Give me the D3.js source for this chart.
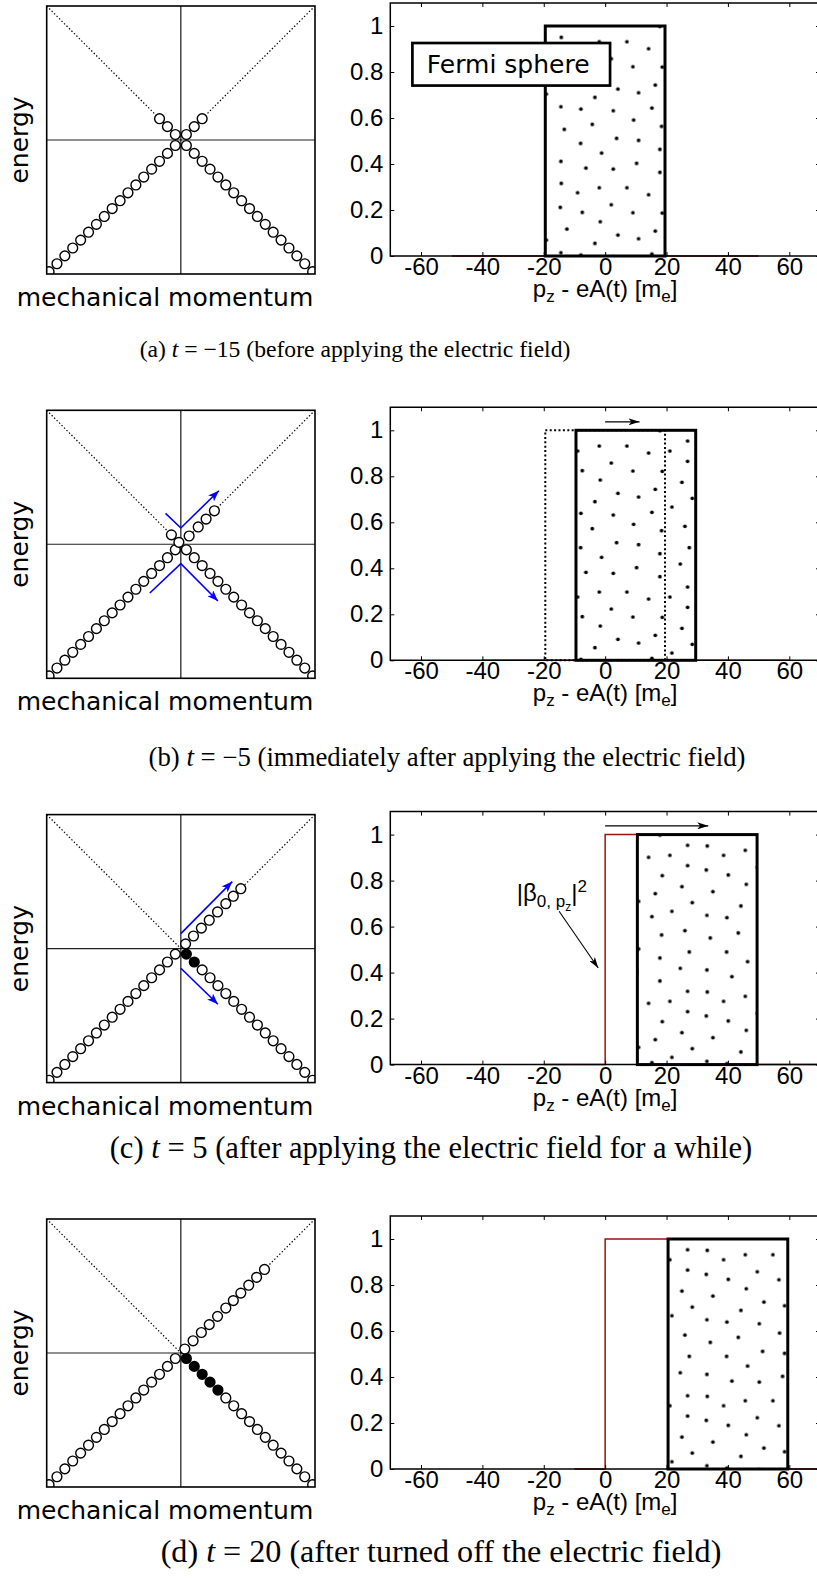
<!DOCTYPE html>
<html><head><meta charset="utf-8">
<script src="https://cdn.jsdelivr.net/npm/d3@7"></script>
<style>body{margin:0;background:#fff}svg{display:block}</style>
</head><body>
<svg id="c" width="817" height="1580"></svg>
<script>
// ---------------- data ----------------
const panelLetters = ["(a)", "(b)", "(c)", "(d)"];
const timeLabels = ["−15", "−5", "5", "20"];
const captionNotes = ["(before applying the electric field)",
  "(immediately after applying the electric field)",
  "(after applying the electric field for a while)",
  "(after turned off the electric field)"];

// right plots
const xTicks = [-60, -40, -20, 0, 20, 40, 60];
const yTicks = [0, 0.2, 0.4, 0.6, 0.8, 1];
const yTickLabels = ["0", "0.2", "0.4", "0.6", "0.8", "1"];
const fermiShift = [0, 10, 30, 40];          // eA(t)
const fermiHalfWidth = 19.5;
const previousShift = [null, 0, null, null]; // dotted outline in (b)
const shiftArrowB = [[0, 1.037], [11.2, 1.037]];
const shiftArrowC = [[0, 1.038], [33.6, 1.038]];
const betaA = [[-50, 0], [50, 0]];
const betaB = [[-40, 0], [60, 0]];
const betaC = [[-20, 0], [0, 0], [0, 1], [30, 1], [30, 0], [80, 0]];
const betaD = [[-10, 0], [0, 0], [0, 1], [40, 1], [40, 0], [90, 0]];
const betaCurves = [betaA, betaB, betaC, betaD];
const betaArrowC = [[-15, 0.667], [-2.25, 0.42]];
const betaLabelPos = [-28.8, 0.71];
const fermiBox = [[-62.8, 0.926], [1.6, 0.741]];
const fermiLabelPos = [-58.1, 0.796];

// fill texture of the Fermi sphere (one 146 px tile, px)
const patternDots = [[0,10],[21.7,5],[49.3,5],[71,12],[92.3,10],[110,0],[4.7,29.7],[33.7,22],
  [55.3,30],[84.7,30.3],[110,20.3],[22.7,39],[104.3,41.3],[40.3,52.3],[61,56],[77.7,48.3],
  [114.7,57.3],[17.3,60.7],[94.3,66],[3.3,72.3],[35.7,74],[74.3,71.3],[14.7,87.7],[56,83.3],
  [84,89.7],[107.3,85.3],[39,101.7],[61,103.7],[82.3,112.7],[3,106.7],[111.7,106.7],[24,116.3],
  [102.7,123],[8.3,131.3],[35.7,132.3],[59,126.7],[82.3,135.7],[129.7,0.7],[128.7,24.7],
  [135.3,46.3],[129.3,70],[132.7,92.7],[129.3,124.7]];

// left diagrams (momentum in grid steps)
const lowerBranch = [-16.7,-15.7,-14.7,-13.7,-12.7,-11.7,-10.7,-9.7,-8.7,-7.7,-6.7,-5.7,-4.7,-3.7,-2.7,-1.7,-0.7,
  0.7,1.7,2.7,3.7,4.7,5.7,6.7,7.7,8.7,9.7,10.7,11.7,12.7,13.7,14.7,15.7,16.7];
const upperA = [-2.7, -1.7, -0.7, 0.7, 1.7, 2.7];
const upperB = [-1.2, -0.25, 1.05, 2.2, 3.2, 4.25];
const upperC = [0.6, 1.6, 2.6, 3.6, 4.65, 5.7, 6.65, 7.6];
const upperD = [0.5, 1.55, 2.6, 3.6, 4.65, 5.7, 6.65, 7.6, 8.6, 9.6, 10.6];
const upperStates = [upperA, upperB, upperC, upperD];
const holesA = [], holesB = [];
const holesC = [0.7, 1.7];
const holesD = [0.7, 1.7, 2.7, 3.7, 4.7];
const holeStates = [holesA, holesB, holesC, holesD];
const blueArrowsB = [[[-1.94, 3.93], [0, 2.07], [4.82, 6.8]], [[-3.93, -6.18], [0, -2.45], [4.7, -7.2]]];
const blueArrowsC = [[[0, 1.9], [6.52, 8.5]], [[0, -2.49], [4.7, -7.06]]];
const blueArrows = [[], blueArrowsB, blueArrowsC, []];

// ---------------- layout ----------------
const panelOffsets = [0, 404.3, 808.6, 1213];
const captionCenters = [355, 447, 431, 441];
const captionWidths = [431, 597, 643, 561];
const captionBaselines = [357, 766, 1158, 1562];
const sansR = "'Liberation Sans', Arial, Helvetica, sans-serif";
const sansD = "'DejaVu Sans', Verdana, sans-serif";
const serif = "'Liberation Serif', 'Times New Roman', serif";

const svg = d3.select("#c");
const defs = svg.append("defs");

function marker(id, color, len, half) {
  defs.append("marker").attr("id", id).attr("markerUnits", "userSpaceOnUse")
    .attr("viewBox", `0 0 ${len} ${2*half}`).attr("refX", len).attr("refY", half)
    .attr("markerWidth", len).attr("markerHeight", 2*half).attr("orient", "auto")
    .append("path").attr("d", `M0,0L${len},${half}L0,${2*half}L${len*0.25},${half}Z`).attr("fill", color);
}
marker("blueHead", "#0000ff", 11, 4.2);
marker("blackHead", "#000", 11, 3.5);

// dot pattern
const tile = 146;
const pat = defs.append("pattern").attr("id", "dots").attr("patternUnits", "userSpaceOnUse")
  .attr("x", 187.3 - 6).attr("y", 33.7 - 6).attr("width", tile).attr("height", tile);
pat.append("rect").attr("width", tile).attr("height", tile).attr("fill", "#fff");
pat.selectAll("circle").data(patternDots).join("circle")
  .attr("cx", d => d[0] + 6).attr("cy", d => d[1] + 6).attr("r", 1.85).attr("fill", "#000");

// scales
const dX = d3.scaleLinear().domain([-17, 17]).range([46.7, 315]);
const dY = d3.scaleLinear().domain([-17, 17]).range([274, 6]);
const plotLeft = 390.3, plotTop = 3, plotW = 429.7, plotH = 253;
const pX = d3.scaleLinear().domain([-70, 70]).range([0, plotW]);
const pY = d3.scaleLinear().domain([0, 1.1]).range([plotH, 0]);

defs.append("clipPath").attr("id", "diagClip").append("rect")
  .attr("x", dX(-17)).attr("y", dY(17)).attr("width", dX(17) - dX(-17)).attr("height", dY(-17) - dY(17));
defs.append("clipPath").attr("id", "plotClip").append("rect")
  .attr("x", 0).attr("y", -3).attr("width", plotW).attr("height", plotH + 6);

panelOffsets.forEach((off, i) => {
  // ---------- left diagram ----------
  const g = svg.append("g").attr("transform", `translate(0,${off})`);
  const inner = g.append("g").attr("clip-path", "url(#diagClip)");
  inner.append("line").attr("x1", dX(0)).attr("x2", dX(0)).attr("y1", dY(17)).attr("y2", dY(-17))
    .attr("stroke", "#000").attr("stroke-width", 1.1);
  inner.append("line").attr("x1", dX(-17)).attr("x2", dX(17)).attr("y1", dY(0)).attr("y2", dY(0))
    .attr("stroke", "#222").attr("stroke-width", 1.1);
  [[-17, 17], [17, 17]].forEach(c => {
    inner.append("line").attr("x1", dX(c[0])).attr("y1", dY(c[1])).attr("x2", dX(0)).attr("y2", dY(0))
      .attr("stroke", "#000").attr("stroke-width", 1.2).attr("stroke-dasharray", "1.4,2.1");
  });
  const holes = holeStates[i];
  inner.selectAll("circle.low").data(lowerBranch).join("circle").attr("class", "low")
    .attr("cx", p => dX(p)).attr("cy", p => dY(-Math.abs(p))).attr("r", 4.9)
    .attr("fill", p => holes.includes(p) ? "#000" : "#fff").attr("stroke", "#000").attr("stroke-width", 1.4);
  inner.selectAll("circle.up").data(upperStates[i]).join("circle").attr("class", "up")
    .attr("cx", p => dX(p)).attr("cy", p => dY(Math.abs(p))).attr("r", 4.9)
    .attr("fill", "#fff").attr("stroke", "#000").attr("stroke-width", 1.4);
  const dLine = d3.line().x(d => dX(d[0])).y(d => dY(d[1]));
  blueArrows[i].forEach(a => {
    g.append("path").attr("d", dLine(a)).attr("fill", "none").attr("stroke", "#0000ff")
      .attr("stroke-width", 1.6).attr("marker-end", "url(#blueHead)");
  });
  g.append("rect").attr("x", dX(-17)).attr("y", dY(17)).attr("width", dX(17) - dX(-17))
    .attr("height", dY(-17) - dY(17)).attr("fill", "none").attr("stroke", "#000").attr("stroke-width", 1.6);
  g.append("text").attr("transform", `translate(27.5,${dY(0)}) rotate(-90)`).attr("text-anchor", "middle")
    .attr("font-family", sansD).attr("font-size", 25).text("energy");
  g.append("text").attr("x", 165).attr("y", 306).attr("text-anchor", "middle")
    .attr("font-family", sansD).attr("font-size", 25).text("mechanical momentum");

  // ---------- right plot ----------
  const r = svg.append("g").attr("transform", `translate(${plotLeft},${plotTop + off})`);
  const content = r.append("g").attr("clip-path", "url(#plotClip)");
  const pLine = d3.line().x(d => pX(d[0])).y(d => pY(d[1]));
  content.append("path").attr("d", pLine(betaCurves[i])).attr("fill", "none")
    .attr("stroke", "#a01010").attr("stroke-width", 1.5);
  const s = fermiShift[i];
  const rx0 = pX(s - fermiHalfWidth), rx1 = pX(s + fermiHalfWidth);
  content.append("rect").attr("x", rx0).attr("y", pY(1)).attr("width", rx1 - rx0).attr("height", pY(0) - pY(1))
    .attr("fill", "url(#dots)");
  if (previousShift[i] !== null) {
    const q0 = pX(previousShift[i] - fermiHalfWidth), q1 = pX(previousShift[i] + fermiHalfWidth);
    content.append("rect").attr("x", q0).attr("y", pY(1)).attr("width", q1 - q0).attr("height", pY(0) - pY(1))
      .attr("fill", "none").attr("stroke", "#000").attr("stroke-width", 2).attr("stroke-dasharray", "2,2.4");
  }
  content.append("rect").attr("x", rx0).attr("y", pY(1)).attr("width", rx1 - rx0).attr("height", pY(0) - pY(1))
    .attr("fill", "none").attr("stroke", "#000").attr("stroke-width", 3);

  // axes
  const ax = r.append("g").attr("transform", `translate(0,${plotH})`)
    .call(d3.axisBottom(pX).tickValues(xTicks).tickSize(-4).tickPadding(2).tickFormat(d3.format("d")));
  const axT = r.append("g").call(d3.axisTop(pX).tickValues(xTicks).tickSize(-4).tickFormat(""));
  const ay = r.append("g")
    .call(d3.axisLeft(pY).tickValues(yTicks).tickSize(-4).tickPadding(7).tickFormat((d, k) => yTickLabels[k]));
  const ayR = r.append("g").attr("transform", `translate(${plotW},0)`)
    .call(d3.axisRight(pY).tickValues(yTicks).tickSize(-4).tickFormat(""));
  [ax, axT, ay, ayR].forEach(a => {
    a.select(".domain").remove();
    a.selectAll("line").attr("stroke", "#000").attr("stroke-width", 1);
    a.selectAll("text").attr("font-family", sansR).attr("font-size", 24).attr("fill", "#000");
  });
  ax.selectAll("text").text(d => d < 0 ? "-" + Math.abs(d) : String(d));
  r.append("path").attr("d", `M${plotW + 5},0H0V${plotH}H${plotW + 5}`).attr("fill", "none")
    .attr("stroke", "#000").attr("stroke-width", 1.5);
  // x label
  const xl = r.append("text").attr("x", pX(0)).attr("y", plotH + 41).attr("text-anchor", "middle")
    .attr("font-family", sansR).attr("font-size", 24);
  xl.append("tspan").text("p");
  xl.append("tspan").attr("font-size", 17).attr("dy", 5).text("z");
  xl.append("tspan").attr("dy", -5).text(" - eA(t) [m");
  xl.append("tspan").attr("font-size", 17).attr("dy", 5).text("e");
  xl.append("tspan").attr("dy", -5).text("]");

  // annotations
  if (i === 0) {
    const bx0 = pX(fermiBox[0][0]), by0 = pY(fermiBox[0][1]);
    const bx1 = pX(fermiBox[1][0]), by1 = pY(fermiBox[1][1]);
    r.append("rect").attr("x", bx0).attr("y", by0).attr("width", bx1 - bx0).attr("height", by1 - by0)
      .attr("fill", "#fff").attr("stroke", "#000").attr("stroke-width", 2.7);
    r.append("text").attr("x", pX(fermiLabelPos[0])).attr("y", pY(fermiLabelPos[1]))
      .attr("font-family", sansD).attr("font-size", 25).text("Fermi sphere");
  }
  const shiftArrow = i === 1 ? shiftArrowB : (i === 2 ? shiftArrowC : null);
  if (shiftArrow) {
    r.append("path").attr("d", pLine(shiftArrow)).attr("stroke", "#000").attr("stroke-width", 1.2)
      .attr("fill", "none").attr("marker-end", "url(#blackHead)");
  }
  if (i === 2) {
    const t = r.append("text").attr("x", pX(betaLabelPos[0])).attr("y", pY(betaLabelPos[1]))
      .attr("font-family", sansR).attr("font-size", 24);
    t.append("tspan").text("|β");
    t.append("tspan").attr("font-size", 17).attr("dy", 6).text("0, p");
    t.append("tspan").attr("font-size", 12).attr("dy", 4).text("z");
    t.append("tspan").attr("dy", -10).text("|");
    t.append("tspan").attr("font-size", 17).attr("dy", -9).text("2");
    r.append("path").attr("d", pLine(betaArrowC)).attr("stroke", "#000").attr("stroke-width", 1.1)
      .attr("fill", "none").attr("marker-end", "url(#blackHead)");
  }
});

// captions
function caption(i, size) {
  const t = svg.append("text").attr("x", captionCenters[i]).attr("y", captionBaselines[i])
    .attr("text-anchor", "middle").attr("font-family", serif).attr("font-size", size);
  t.append("tspan").text(panelLetters[i] + " ");
  t.append("tspan").attr("font-style", "italic").text("t");
  t.append("tspan").text(" = " + timeLabels[i] + " " + captionNotes[i]);
  return t;
}
panelOffsets.forEach((o, i) => {
  const probe = caption(i, 22);
  const w = probe.node().getComputedTextLength();
  probe.remove();
  caption(i, 22 * captionWidths[i] / w);
});
</script>
</body></html>
